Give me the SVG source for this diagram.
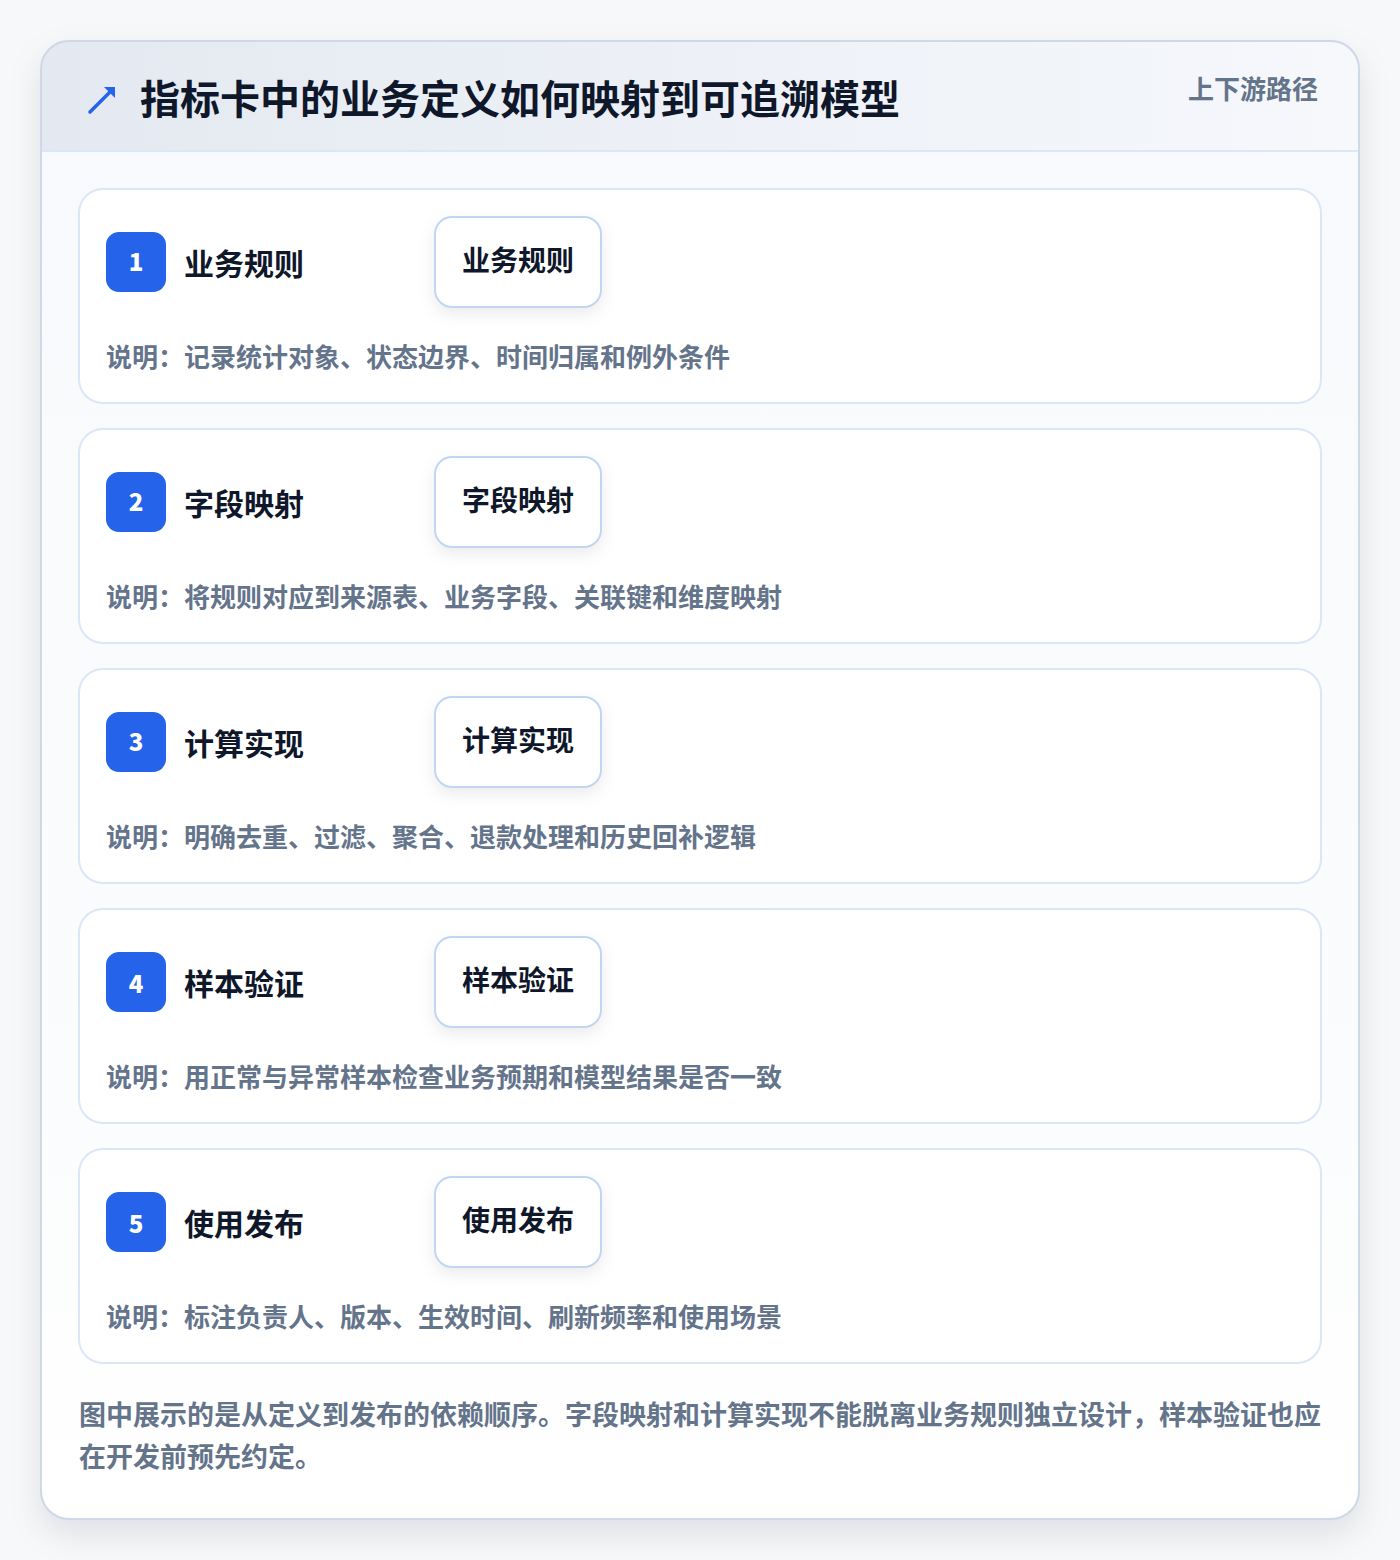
<svg xmlns="http://www.w3.org/2000/svg" width="1400" height="1560" viewBox="0 0 1400 1560">
<defs>
<linearGradient id="hdr" x1="0" y1="0" x2="1" y2="0">
<stop offset="0" stop-color="#e4e9f1"/>
<stop offset="1" stop-color="#f6f8fc"/>
</linearGradient>
<linearGradient id="body" x1="0" y1="0" x2="0" y2="1">
<stop offset="0" stop-color="#f7f9fc"/>
<stop offset="0.7" stop-color="#fbfcfd"/>
<stop offset="1" stop-color="#ffffff"/>
</linearGradient>
<filter id="outerShadow" x="-10%" y="-10%" width="120%" height="120%">
<feDropShadow dx="0" dy="14" stdDeviation="16" flood-color="#0f172a" flood-opacity="0.10"/>
</filter>
<filter id="pillShadow" x="-30%" y="-30%" width="160%" height="180%">
<feDropShadow dx="0" dy="6" stdDeviation="8" flood-color="#0f172a" flood-opacity="0.08"/>
</filter>
<clipPath id="cardClip"><rect x="41" y="41" width="1318" height="1478" rx="28"/></clipPath>
</defs>
<style>
text{font-family:"Noto Sans CJK SC","Noto Sans",sans-serif;font-weight:700}
.card{fill:#ffffff;stroke:#dbe7f7;stroke-width:2}
.badge{fill:#2563eb}
.num{fill:#ffffff;font-size:24px;font-weight:900;text-anchor:middle}
.ttl{fill:#0f172a;font-size:30px}
.pill{fill:#ffffff;stroke:#bfd6f4;stroke-width:2}
.ptxt{fill:#0f172a;font-size:28px;text-anchor:middle}
.desc{fill:#64748b;font-size:26px}
.foot{fill:#64748b;font-size:27px}
</style>
<rect x="0" y="0" width="1400" height="1560" fill="#f7f8f9"/>
<g id="frame">
<rect x="41" y="41" width="1318" height="1478" rx="28" fill="url(#body)" filter="url(#outerShadow)"/>
<g clip-path="url(#cardClip)">
<rect x="41" y="41" width="1318" height="110" fill="url(#hdr)"/>
</g>
<line x1="41" y1="151" x2="1359" y2="151" stroke="#dbe7f5" stroke-width="2"/>
<rect x="41" y="41" width="1318" height="1478" rx="28" fill="none" stroke="#cfd8e6" stroke-width="2"/>
</g>
<g id="header">
<path d="M90 112 L112 90" stroke="#2563eb" stroke-width="3.5" stroke-linecap="round"/>
<path d="M104 87 L115 87 L115 98 Z" fill="#2563eb"/>
<text x="140" y="114" font-size="40" fill="#0f172a">指标卡中的业务定义如何映射到可追溯模型</text>
<text x="1318" y="99" font-size="26" fill="#64748b" text-anchor="end">上下游路径</text>
</g>
<g id="step1">
<rect class="card" x="79" y="189" width="1242" height="214" rx="24"/>
<rect class="badge" x="106" y="232" width="60" height="60" rx="13"/>
<text class="num" x="136" y="271">1</text>
<text class="ttl" x="184" y="275">业务规则</text>
<rect class="pill" x="435" y="217" width="166" height="90" rx="17" filter="url(#pillShadow)"/>
<text class="ptxt" x="518" y="271">业务规则</text>
<text class="desc" x="106" y="367">说明：记录统计对象、状态边界、时间归属和例外条件</text>
</g>
<g id="step2">
<rect class="card" x="79" y="429" width="1242" height="214" rx="24"/>
<rect class="badge" x="106" y="472" width="60" height="60" rx="13"/>
<text class="num" x="136" y="511">2</text>
<text class="ttl" x="184" y="515">字段映射</text>
<rect class="pill" x="435" y="457" width="166" height="90" rx="17" filter="url(#pillShadow)"/>
<text class="ptxt" x="518" y="511">字段映射</text>
<text class="desc" x="106" y="607">说明：将规则对应到来源表、业务字段、关联键和维度映射</text>
</g>
<g id="step3">
<rect class="card" x="79" y="669" width="1242" height="214" rx="24"/>
<rect class="badge" x="106" y="712" width="60" height="60" rx="13"/>
<text class="num" x="136" y="751">3</text>
<text class="ttl" x="184" y="755">计算实现</text>
<rect class="pill" x="435" y="697" width="166" height="90" rx="17" filter="url(#pillShadow)"/>
<text class="ptxt" x="518" y="751">计算实现</text>
<text class="desc" x="106" y="847">说明：明确去重、过滤、聚合、退款处理和历史回补逻辑</text>
</g>
<g id="step4">
<rect class="card" x="79" y="909" width="1242" height="214" rx="24"/>
<rect class="badge" x="106" y="952" width="60" height="60" rx="13"/>
<text class="num" x="136" y="993">4</text>
<text class="ttl" x="184" y="995">样本验证</text>
<rect class="pill" x="435" y="937" width="166" height="90" rx="17" filter="url(#pillShadow)"/>
<text class="ptxt" x="518" y="991">样本验证</text>
<text class="desc" x="106" y="1087">说明：用正常与异常样本检查业务预期和模型结果是否一致</text>
</g>
<g id="step5">
<rect class="card" x="79" y="1149" width="1242" height="214" rx="24"/>
<rect class="badge" x="106" y="1192" width="60" height="60" rx="13"/>
<text class="num" x="136" y="1233">5</text>
<text class="ttl" x="184" y="1235">使用发布</text>
<rect class="pill" x="435" y="1177" width="166" height="90" rx="17" filter="url(#pillShadow)"/>
<text class="ptxt" x="518" y="1231">使用发布</text>
<text class="desc" x="106" y="1327">说明：标注负责人、版本、生效时间、刷新频率和使用场景</text>
</g>
<g id="connectors"></g>
<g id="footer">
<text class="foot" x="79" y="1425">图中展示的是从定义到发布的依赖顺序。字段映射和计算实现不能脱离业务规则独立设计，样本验证也应</text>
<text class="foot" x="79" y="1467">在开发前预先约定。</text>
</g>
</svg>
